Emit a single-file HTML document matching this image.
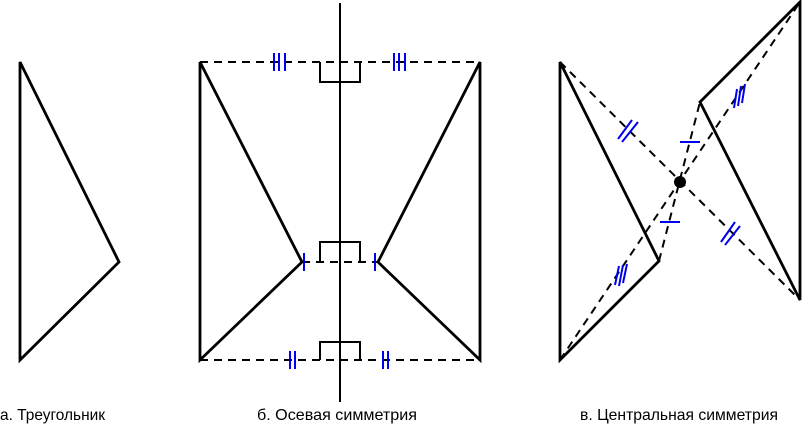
<!DOCTYPE html>
<html><head><meta charset="utf-8"><style>body{margin:0;background:#fff}svg{display:block}</style></head><body>
<svg width="802" height="425" viewBox="0 0 802 425" xmlns="http://www.w3.org/2000/svg">
<g stroke="#000" stroke-width="2.8" fill="none" stroke-linejoin="miter">
<polygon points="20,62 20,360 119,262"/>
<polygon points="200,62 200,360 302,262"/>
<polygon points="480,62 480,360 378,262"/>
<polygon points="560,62 560,360 659,261"/>
<polygon points="800,2 800,300 700,102"/>
</g>
<line x1="340" y1="3" x2="340" y2="402" stroke="#000" stroke-width="2"/>
<g stroke="#000" stroke-width="2" fill="none">
<polyline points="320,62 320,82 360,82 360,62"/>
<polyline points="320,262 320,242 360,242 360,262"/>
<polyline points="320,360 320,342 360,342 360,360"/>
</g>
<g stroke="#000" stroke-width="2" stroke-dasharray="8,6" fill="none">
<line x1="200" y1="62" x2="480" y2="62"/>
<line x1="302" y1="262" x2="378" y2="262"/>
<line x1="200" y1="360" x2="480" y2="360"/>
<line x1="560" y1="62" x2="800" y2="300"/>
<line x1="560" y1="360" x2="800" y2="2"/>
<line x1="659" y1="261" x2="700" y2="102"/>
</g>
<circle cx="680" cy="182" r="6" fill="#000"/>
<g stroke="#0000ee" stroke-width="2" fill="none">
<line x1="274" y1="53" x2="274" y2="71"/><line x1="279" y1="53" x2="279" y2="71"/><line x1="285" y1="53" x2="285" y2="71"/>
<line x1="394" y1="53" x2="394" y2="71"/><line x1="399" y1="53" x2="399" y2="71"/><line x1="405" y1="53" x2="405" y2="71"/>
<line x1="304" y1="253" x2="304" y2="271"/>
<line x1="375" y1="253" x2="375" y2="271"/>
<line x1="290" y1="351" x2="290" y2="369"/><line x1="295" y1="351" x2="295" y2="369"/>
<line x1="383" y1="351" x2="383" y2="369"/><line x1="388" y1="351" x2="388" y2="369"/>
<line x1="618" y1="139" x2="632" y2="120"/><line x1="622" y1="142" x2="638" y2="122"/>
<line x1="721" y1="242" x2="735" y2="222"/><line x1="725" y1="245" x2="740" y2="226"/>
<line x1="615" y1="285" x2="619" y2="266"/><line x1="619" y1="286" x2="623" y2="265"/><line x1="623" y1="283" x2="627" y2="264"/>
<line x1="734" y1="108" x2="737" y2="89"/><line x1="738" y1="106" x2="741" y2="86"/><line x1="742" y1="103" x2="745" y2="84"/>
<line x1="680" y1="142" x2="700" y2="142"/>
<line x1="660" y1="222" x2="680" y2="222"/>
</g>
<g font-family="Liberation Sans, sans-serif" font-size="16" fill="#000">
<text x="0" y="420" textLength="105" lengthAdjust="spacingAndGlyphs">а. Треугольник</text>
<text x="257" y="420" textLength="160" lengthAdjust="spacingAndGlyphs">б. Осевая симметрия</text>
<text x="580" y="420" textLength="198" lengthAdjust="spacingAndGlyphs">в. Центральная симметрия</text>
</g>
</svg>
</body></html>
